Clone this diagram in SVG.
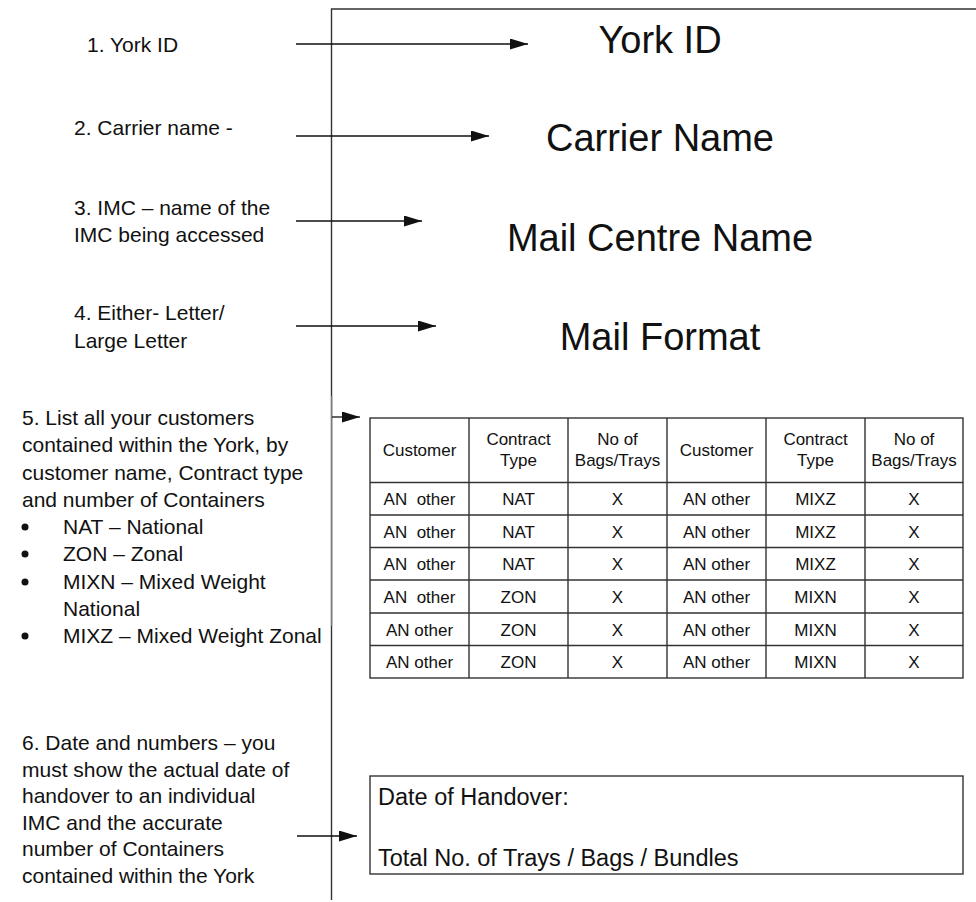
<svg xmlns="http://www.w3.org/2000/svg" width="976" height="902" viewBox="0 0 976 902">
<style>
  text { font-family: "Liberation Sans", Arial, sans-serif; fill: #111; }
  .lbl { font-size: 21px; }
  .head { font-size: 38px; text-anchor: middle; }
  .tb { font-size: 17px; text-anchor: middle; white-space: pre; }
  .box { font-size: 23.5px; }
  .ln { stroke: #333; stroke-width: 1.4; fill: none; }
  .grid { stroke: #333; stroke-width: 1.4; fill: none; }
  .arr { stroke: #111; stroke-width: 1.3; fill: none; marker-end: url(#ah); }
</style>
<defs>
  <marker id="ah" markerWidth="19" markerHeight="12" refX="18" refY="5.5" orient="auto" markerUnits="userSpaceOnUse">
    <path d="M0,0 L18,5.5 L0,11 z" fill="#111"/>
  </marker>
</defs>
<rect width="976" height="902" fill="#fff"/>

<g id="frame">
  <path class="ln" d="M331.5,900 V9 H976"/>
  <line x1="332" y1="396" x2="332" y2="626" stroke="#aaa" stroke-width="1.2"/>
</g>

<g id="label1"><text class="lbl" x="87" y="52">1. York ID</text></g>
<g id="label2"><text class="lbl" x="74" y="135">2. Carrier name -</text></g>
<g id="label3"><text class="lbl" x="74" y="215">3. IMC – name of the</text><text class="lbl" x="74" y="242">IMC being accessed</text></g>
<g id="label4"><text class="lbl" x="74" y="320">4. Either- Letter/</text><text class="lbl" x="74" y="348">Large Letter</text></g>
<g id="label5">
  <text class="lbl" x="22" y="425">5. List all your customers</text>
  <text class="lbl" x="22" y="452">contained within the York, by</text>
  <text class="lbl" x="22" y="480">customer name, Contract type</text>
  <text class="lbl" x="22" y="507">and number of Containers</text>
  <circle cx="25" cy="527" r="3.5" fill="#111"/><text class="lbl" x="63" y="534">NAT – National</text>
  <circle cx="25" cy="554" r="3.5" fill="#111"/><text class="lbl" x="63" y="561">ZON – Zonal</text>
  <circle cx="25" cy="582" r="3.5" fill="#111"/><text class="lbl" x="63" y="589">MIXN – Mixed Weight</text>
  <text class="lbl" x="63" y="616">National</text>
  <circle cx="25" cy="636" r="3.5" fill="#111"/><text class="lbl" x="63" y="643">MIXZ – Mixed Weight Zonal</text>
</g>
<g id="label6">
  <text class="lbl" x="22" y="750">6. Date and numbers – you</text>
  <text class="lbl" x="22" y="776.6">must show the actual date of</text>
  <text class="lbl" x="22" y="803.2">handover to an individual</text>
  <text class="lbl" x="22" y="829.8">IMC and the accurate</text>
  <text class="lbl" x="22" y="856.4">number of Containers</text>
  <text class="lbl" x="22" y="883">contained within the York</text>
</g>

<g id="york-id"><text class="head" x="660" y="53">York ID</text></g>
<g id="carrier-name"><text class="head" x="660" y="151">Carrier Name</text></g>
<g id="mail-centre-name"><text class="head" x="660" y="251">Mail Centre Name</text></g>
<g id="mail-format"><text class="head" x="660" y="350">Mail Format</text></g>

<g id="customer-table">
  <rect class="grid" x="370" y="418" width="593" height="260"/>
  <path class="grid" d="M469,418V678 M568,418V678 M667,418V678 M766,418V678 M865,418V678
    M370,482.5H963 M370,515H963 M370,547.5H963 M370,580H963 M370,613H963 M370,645.5H963"/>
  <text class="tb" x="419.5" y="456">Customer</text>
  <text class="tb" x="518.5" y="445">Contract</text><text class="tb" x="518.5" y="466">Type</text>
  <text class="tb" x="617.5" y="445">No of</text><text class="tb" x="617.5" y="466">Bags/Trays</text>
  <text class="tb" x="716.5" y="456">Customer</text>
  <text class="tb" x="815.5" y="445">Contract</text><text class="tb" x="815.5" y="466">Type</text>
  <text class="tb" x="914" y="445">No of</text><text class="tb" x="914" y="466">Bags/Trays</text>

  <text class="tb" x="419.5" y="505">AN&#160; other</text><text class="tb" x="518.5" y="505">NAT</text><text class="tb" x="617.5" y="505">X</text><text class="tb" x="716.5" y="505">AN other</text><text class="tb" x="815.5" y="505">MIXZ</text><text class="tb" x="914" y="505">X</text>
  <text class="tb" x="419.5" y="537.5">AN&#160; other</text><text class="tb" x="518.5" y="537.5">NAT</text><text class="tb" x="617.5" y="537.5">X</text><text class="tb" x="716.5" y="537.5">AN other</text><text class="tb" x="815.5" y="537.5">MIXZ</text><text class="tb" x="914" y="537.5">X</text>
  <text class="tb" x="419.5" y="570">AN&#160; other</text><text class="tb" x="518.5" y="570">NAT</text><text class="tb" x="617.5" y="570">X</text><text class="tb" x="716.5" y="570">AN other</text><text class="tb" x="815.5" y="570">MIXZ</text><text class="tb" x="914" y="570">X</text>
  <text class="tb" x="419.5" y="602.5">AN&#160; other</text><text class="tb" x="518.5" y="602.5">ZON</text><text class="tb" x="617.5" y="602.5">X</text><text class="tb" x="716.5" y="602.5">AN other</text><text class="tb" x="815.5" y="602.5">MIXN</text><text class="tb" x="914" y="602.5">X</text>
  <text class="tb" x="419.5" y="635.5">AN other</text><text class="tb" x="518.5" y="635.5">ZON</text><text class="tb" x="617.5" y="635.5">X</text><text class="tb" x="716.5" y="635.5">AN other</text><text class="tb" x="815.5" y="635.5">MIXN</text><text class="tb" x="914" y="635.5">X</text>
  <text class="tb" x="419.5" y="668">AN other</text><text class="tb" x="518.5" y="668">ZON</text><text class="tb" x="617.5" y="668">X</text><text class="tb" x="716.5" y="668">AN other</text><text class="tb" x="815.5" y="668">MIXN</text><text class="tb" x="914" y="668">X</text>
</g>

<g id="handover-box">
  <rect class="grid" x="370" y="776" width="593" height="98"/>
  <text class="box" x="378" y="805">Date of Handover:</text>
  <text class="box" x="378" y="866">Total No. of Trays / Bags / Bundles</text>
</g>

<g id="connectors">
  <line class="arr" x1="296" y1="44" x2="528" y2="44"/>
  <line class="arr" x1="296" y1="136" x2="489" y2="136"/>
  <line class="arr" x1="296" y1="221" x2="422" y2="221"/>
  <line class="arr" x1="296" y1="326" x2="436" y2="326"/>
  <line class="arr" x1="332" y1="417" x2="360" y2="417"/>
  <line class="arr" x1="297" y1="836" x2="357" y2="836"/>
</g>
</svg>
